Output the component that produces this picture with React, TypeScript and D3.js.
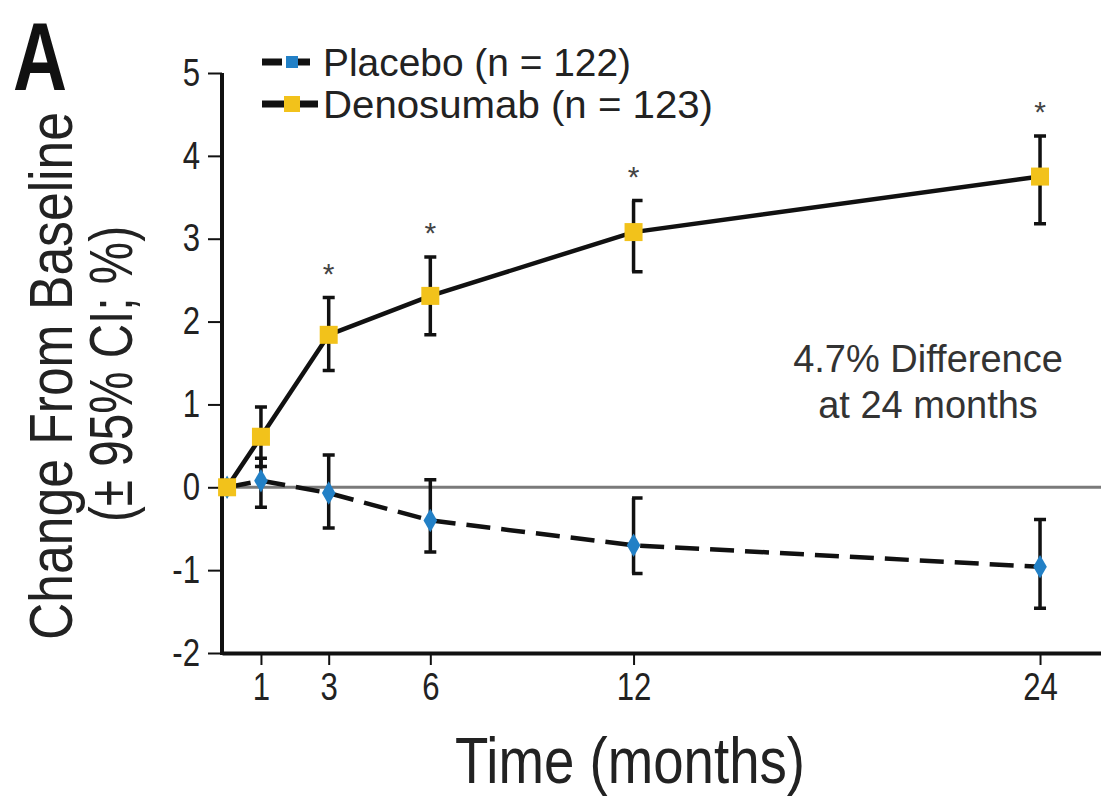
import { useEffect, useRef } from "react";
import * as d3 from "d3";

const months = [0, 1, 3, 6, 12, 24];
const denosumab = [0, 0.61, 1.84, 2.31, 3.08, 3.75];
const denosumabLow = [null, 0.25, 1.41, 1.84, 2.6, 3.18];
const denosumabHigh = [null, 0.97, 2.29, 2.78, 3.46, 4.24];
const placebo = [0, 0.08, -0.07, -0.4, -0.7, -0.96];
const placeboLow = [null, -0.24, -0.49, -0.78, -1.04, -1.46];
const placeboHigh = [null, 0.35, 0.39, 0.09, -0.13, -0.39];
const significant = [3, 6, 12, 24];
const bracketMonths = [12];
const xTicks = [1, 3, 6, 12, 24];
const yTicks = [-2, -1, 0, 1, 2, 3, 4, 5];
const legendLabels = ["Placebo (n = 122)", "Denosumab (n = 123)"];
const legendWidths = [308, 390];

const FONT = "'Liberation Sans', Arial, sans-serif";
const YELLOW = "#f2c21b";
const BLUE = "#2280c6";
const SQUEEZE = 0.82; // the figure uses a condensed face

const App = () => {
  const ref = useRef<SVGSVGElement>(null);

  useEffect(() => {
    const width = 1101;
    const height = 803;
    const svg = d3.select(ref.current);
    svg.selectAll("*").remove();
    svg.attr("viewBox", [0, 0, width, height]);

    const x = d3.scaleLinear().domain([-0.15, 25.8]).range([222, 1101]);
    const y = d3.scaleLinear().domain([-2, 5]).range([653, 73]);

    // zero reference
    svg
      .append("line")
      .attr("x1", x(-0.15))
      .attr("x2", width)
      .attr("y1", y(0))
      .attr("y2", y(0))
      .attr("stroke", "#7a7a7a")
      .attr("stroke-width", 3);

    // axes
    const gx = svg
      .append("g")
      .attr("transform", `translate(0,${y(-2)})`)
      .call(
        d3.axisBottom(x).tickValues(xTicks).tickSize(12).tickPadding(8).tickSizeOuter(0)
      );
    const gy = svg
      .append("g")
      .attr("transform", `translate(${x(-0.15)},0)`)
      .call(
        d3
          .axisLeft(y)
          .tickValues(yTicks)
          .tickFormat((d) => String(d))
          .tickSize(14)
          .tickSizeOuter(0)
      );
    [gx, gy].forEach((g) => {
      g.select(".domain").attr("stroke", "#111").attr("stroke-width", 4);
      g.selectAll(".tick line").attr("stroke", "#111").attr("stroke-width", 2);
      g.selectAll("text")
        .attr("font-family", FONT)
        .attr("font-size", 38)
        .attr("fill", "#222")
        .attr("transform", `scale(${SQUEEZE},1)`);
    });
    gy.selectAll("text").attr("x", -22 / SQUEEZE);
    gy.select(".domain").attr("d", `M0,${y(5)}V${y(-2) + 2}`);

    // lines
    const line = d3
      .line<number>()
      .x((d, i) => x(months[i]))
      .y((d) => y(d));
    svg
      .append("path")
      .attr("d", line(placebo))
      .attr("fill", "none")
      .attr("stroke", "#111")
      .attr("stroke-width", 4.5)
      .attr("stroke-dasharray", "24 11");
    svg
      .append("path")
      .attr("d", line(denosumab))
      .attr("fill", "none")
      .attr("stroke", "#111")
      .attr("stroke-width", 4.5);

    // error bars
    const errorBars = (lo: (number | null)[], hi: (number | null)[]) => {
      const g = svg
        .append("g")
        .attr("stroke", "#111")
        .attr("stroke-width", 3.5)
        .attr("fill", "none");
      months.forEach((m, i) => {
        if (lo[i] == null || hi[i] == null) return;
        const cx = x(m);
        const y0 = y(lo[i] as number);
        const y1 = y(hi[i] as number);
        const bracket = bracketMonths.includes(m);
        const c0 = bracket ? cx - 1.5 : cx - 6;
        const c1 = bracket ? cx + 9 : cx + 6;
        g.append("path").attr("d", `M${cx},${y0}V${y1}M${c0},${y0}H${c1}M${c0},${y1}H${c1}`);
      });
    };
    errorBars(placeboLow, placeboHigh);
    errorBars(denosumabLow, denosumabHigh);

    // markers
    const diamond = d3.symbol(d3.symbolDiamond, 160);
    svg
      .append("g")
      .selectAll("path")
      .data(placebo)
      .join("path")
      .attr("transform", (d, i) => `translate(${x(months[i])},${y(d)})`)
      .attr("d", diamond())
      .attr("fill", BLUE);
    svg
      .append("g")
      .selectAll("rect")
      .data(denosumab)
      .join("rect")
      .attr("x", (d, i) => x(months[i]) - 9)
      .attr("y", (d) => y(d) - 9)
      .attr("width", 18)
      .attr("height", 18)
      .attr("fill", YELLOW);

    // asterisks
    svg
      .append("g")
      .selectAll("text")
      .data(significant)
      .join("text")
      .attr("x", (m) => x(m))
      .attr("y", (m) => y(denosumabHigh[months.indexOf(m)] as number) - 14)
      .attr("text-anchor", "middle")
      .attr("font-family", FONT)
      .attr("font-size", 30)
      .attr("fill", "#444")
      .text("*");

    // legend
    legendLabels.forEach((label, i) => {
      const ly = 62 + i * 42;
      const g = svg.append("g").attr("transform", `translate(262,${ly})`);
      g.append("line")
        .attr("x1", 0)
        .attr("x2", 56)
        .attr("stroke", "#111")
        .attr("stroke-width", 7)
        .attr("stroke-dasharray", i === 0 ? "20 8" : null);
      if (i === 0) {
        g.append("rect").attr("x", 24).attr("y", -6).attr("width", 12).attr("height", 12).attr("fill", BLUE);
      } else {
        g.append("rect").attr("x", 22).attr("y", -8).attr("width", 16).attr("height", 16).attr("fill", YELLOW);
      }
      g.append("text")
        .attr("x", 61)
        .attr("dy", "0.35em")
        .attr("font-family", FONT)
        .attr("font-size", 39)
        .attr("fill", "#222")
        .attr("textLength", legendWidths[i])
        .attr("lengthAdjust", "spacingAndGlyphs")
        .text(label);
    });

    // annotation
    const note = svg
      .append("text")
      .attr("text-anchor", "middle")
      .attr("font-family", FONT)
      .attr("font-size", 38)
      .attr("fill", "#333");
    note.append("tspan").attr("x", 928).attr("y", 372).text("4.7% Difference");
    note.append("tspan").attr("x", 928).attr("y", 418).text("at 24 months");

    // axis titles
    svg
      .append("text")
      .attr("x", 455)
      .attr("y", 783)
      .attr("font-family", FONT)
      .attr("font-size", 64)
      .attr("fill", "#222")
      .attr("textLength", 350)
      .attr("lengthAdjust", "spacingAndGlyphs")
      .text("Time (months)");
    const yt = svg
      .append("g")
      .attr("transform", "rotate(-90)")
      .attr("font-family", FONT)
      .attr("font-size", 62)
      .attr("fill", "#222");
    yt.append("text")
      .attr("x", -640)
      .attr("y", 72)
      .attr("textLength", 528)
      .attr("lengthAdjust", "spacingAndGlyphs")
      .text("Change From Baseline");
    yt.append("text")
      .attr("x", -522)
      .attr("y", 132)
      .attr("textLength", 296)
      .attr("lengthAdjust", "spacingAndGlyphs")
      .text("(± 95% CI; %)");

    // panel letter
    svg
      .append("text")
      .attr("x", 13)
      .attr("y", 90)
      .attr("font-family", FONT)
      .attr("font-weight", "bold")
      .attr("font-size", 96)
      .attr("fill", "#111")
      .attr("textLength", 54)
      .attr("lengthAdjust", "spacingAndGlyphs")
      .text("A");
  }, []);

  return (
    <svg
      ref={ref}
      width="1101"
      height="803"
      style={{ position: "absolute", left: 0, top: 0, background: "#fff" }}
    />
  );
};

export default App;
